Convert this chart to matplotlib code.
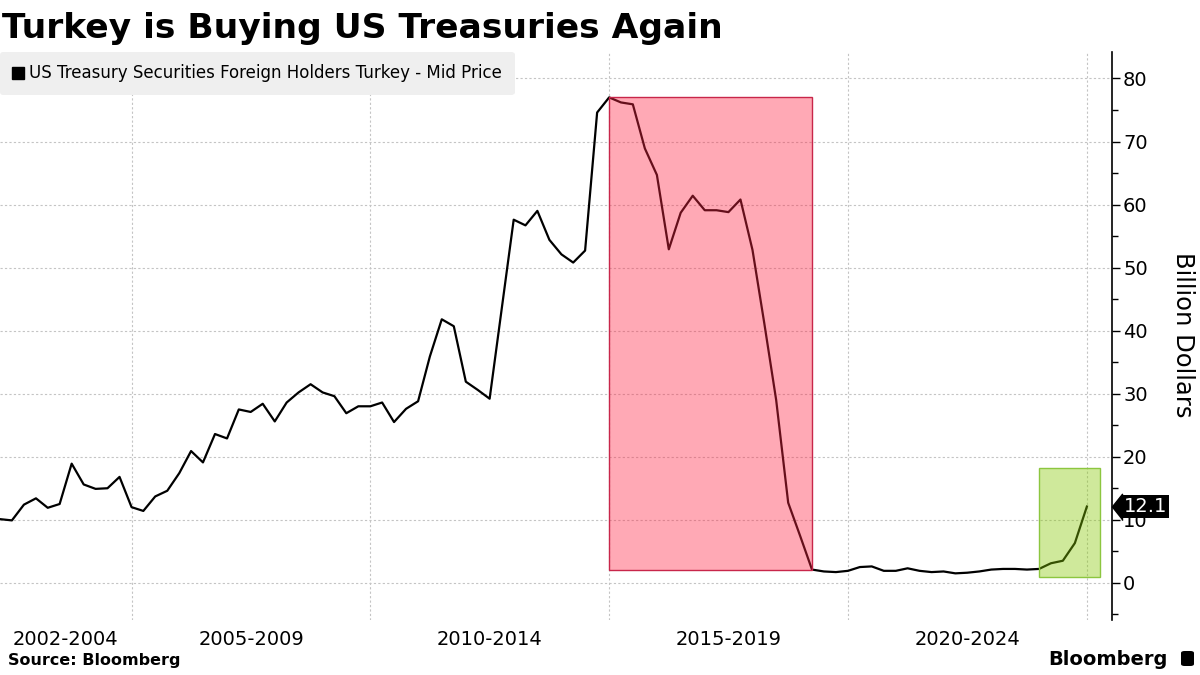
import pandas as pd
import matplotlib
matplotlib.use("Agg")
import matplotlib.pyplot as plt
import matplotlib.dates as mdates
from matplotlib.lines import Line2D
from matplotlib.patches import Rectangle, FancyBboxPatch
from matplotlib.ticker import MultipleLocator, FixedLocator, NullFormatter
import matplotlib.transforms as mtransforms

# quarterly holdings, billion dollars, Q1 2002 .. Q4 2024
holdings = [
    10.1, 9.9, 12.4, 13.4, 11.9, 12.5, 18.9, 15.6, 14.9, 15.0, 16.8, 12.0,
    11.4, 13.7, 14.6, 17.4, 20.9, 19.1, 23.6, 22.9, 27.5, 27.1, 28.4, 25.6,
    28.6, 30.2, 31.5, 30.2, 29.6, 26.9, 28.0, 28.0, 28.6, 25.5, 27.6, 28.8,
    35.9, 41.8, 40.7, 31.9, 30.6, 29.2, 43.4, 57.6, 56.7, 59.0, 54.4, 52.1,
    50.8, 52.7, 74.6, 77.0, 76.2, 75.9, 68.9, 64.7, 52.9, 58.7, 61.4, 59.1,
    59.1, 58.8, 60.8, 52.8, 41.2, 29.0, 12.7, 7.4, 2.1, 1.8, 1.7, 1.9,
    2.5, 2.6, 1.9, 1.9, 2.3, 1.9, 1.7, 1.8, 1.5, 1.6, 1.8, 2.1,
    2.2, 2.2, 2.1, 2.2, 3.1, 3.5, 6.3, 12.1,
]
dates = pd.period_range("2002Q1", "2024Q4", freq="Q").to_timestamp(how="end").normalize()

period_labels = ["2002-2004", "2005-2009", "2010-2014", "2015-2019", "2020-2024"]
period_starts = ["2005-01-01", "2010-01-01", "2015-01-01", "2020-01-01", "2025-01-01"]

# highlighted episodes: (start, end, low, high)
sell_off = ("2014-12-31", "2019-03-31", 2.1, 77.0)
buy_again = ("2023-12-31", "2025-04-10", 1.0, 18.2)

series_name = "US Treasury Securities Foreign Holders Turkey - Mid Price"

fig = plt.figure(figsize=(12, 6.75), dpi=100)
ax = fig.add_axes([0, 55 / 675, 1112 / 1200, 568 / 675])

ax.plot(dates, holdings, color="black", lw=1.6, zorder=2)

x_left = mdates.date2num(dates[0])
x_right = mdates.date2num(pd.Timestamp("2025-07-11"))
ax.set_xlim(x_left, x_right)
ax.set_ylim(-5.9, 84.2)

# shaded boxes
for (s, e, lo, hi), fc, ec in [(sell_off, (1.0, 0.157, 0.275, 0.4), "#c8264a"),
                              (buy_again, (0.53, 0.79, 0.02, 0.4), "#8cc63f")]:
    x0 = mdates.date2num(pd.Timestamp(s))
    x1 = mdates.date2num(pd.Timestamp(e))
    ax.add_patch(Rectangle((x0, lo), x1 - x0, hi - lo, facecolor=fc,
                           edgecolor=ec, lw=1, zorder=3))

# x axis: grid at period boundaries, labels centred in between
bounds = [mdates.date2num(pd.Timestamp(d)) for d in period_starts]
ax.xaxis.set_major_locator(FixedLocator(bounds))
ax.xaxis.set_major_formatter(NullFormatter())
edges = [x_left] + bounds
mids = [(a + b) / 2 for a, b in zip(edges[:-1], edges[1:])]
ax.xaxis.set_minor_locator(FixedLocator(mids))
ax.xaxis.set_minor_formatter(matplotlib.ticker.FixedFormatter(period_labels))
ax.tick_params(axis="x", which="both", length=0, pad=7, labelsize=14)

# y axis on the right
ax.yaxis.tick_right()
ax.yaxis.set_major_locator(MultipleLocator(10))
ax.yaxis.set_minor_locator(MultipleLocator(5))
ax.tick_params(axis="y", which="major", length=6, width=1, pad=2, labelsize=14)
ax.tick_params(axis="y", which="minor", length=4, width=1)

for side in ["left", "top", "bottom"]:
    ax.spines[side].set_visible(False)
ax.spines["right"].set_linewidth(1.2)

ax.grid(True, which="major", color="#c4c4c4", lw=0.8, linestyle=(0, (2, 2)))
ax.set_axisbelow(True)

# legend
handle = Line2D([], [], marker="s", color="black", ls="none", ms=8)
leg = ax.legend([handle], [series_name], loc="upper left", bbox_to_anchor=(0, 1),
                borderaxespad=0, fontsize=12, handlelength=0.7, handletextpad=0.3,
                borderpad=0.75, frameon=True, fancybox=True)
leg.get_frame().set_facecolor("#efefef")
leg.get_frame().set_edgecolor("none")
leg.get_frame().set_alpha(1)

# last value tag
last = holdings[-1]
tri = mtransforms.offset_copy(ax.get_yaxis_transform(), fig=fig, x=10, y=0, units="dots")
ax.plot([1.0], [last], marker=[(-0.8, 0), (0, 1), (0, -1)], ms=19, color="black",
        transform=tri, clip_on=False, zorder=5)
ax.annotate(f"{last:.1f}", xy=(1.0, last), xycoords=ax.get_yaxis_transform(),
            xytext=(8.6, 0), textcoords="offset points", ha="left", va="center",
            color="white", fontsize=14, annotation_clip=False, zorder=6,
            bbox=dict(boxstyle="square,pad=0.1", fc="black", ec="none"))

fig.text(1183 / 1200, 1 - 335 / 675, "Billion Dollars", rotation=270,
         ha="center", va="center", fontsize=17.5)

fig.text(2 / 1200, 1 - 38 / 675, "Turkey is Buying US Treasuries Again",
         fontsize=24.8, fontweight="bold", va="baseline", ha="left")
fig.text(8 / 1200, 1 - 665 / 675, "Source: Bloomberg", fontsize=11.5,
         fontweight="bold", va="baseline", ha="left")
fig.text(1168 / 1200, 1 - 665 / 675, "Bloomberg", fontsize=14,
         fontweight="bold", va="baseline", ha="right")
fig.patches.append(FancyBboxPatch((1181 / 1200, 1 - 666 / 675), 13 / 1200, 15 / 675,
                                  boxstyle="round,pad=0,rounding_size=0.003",
                                  transform=fig.transFigure, fc="black", ec="none"))

fig.savefig("out.png", dpi=100)
